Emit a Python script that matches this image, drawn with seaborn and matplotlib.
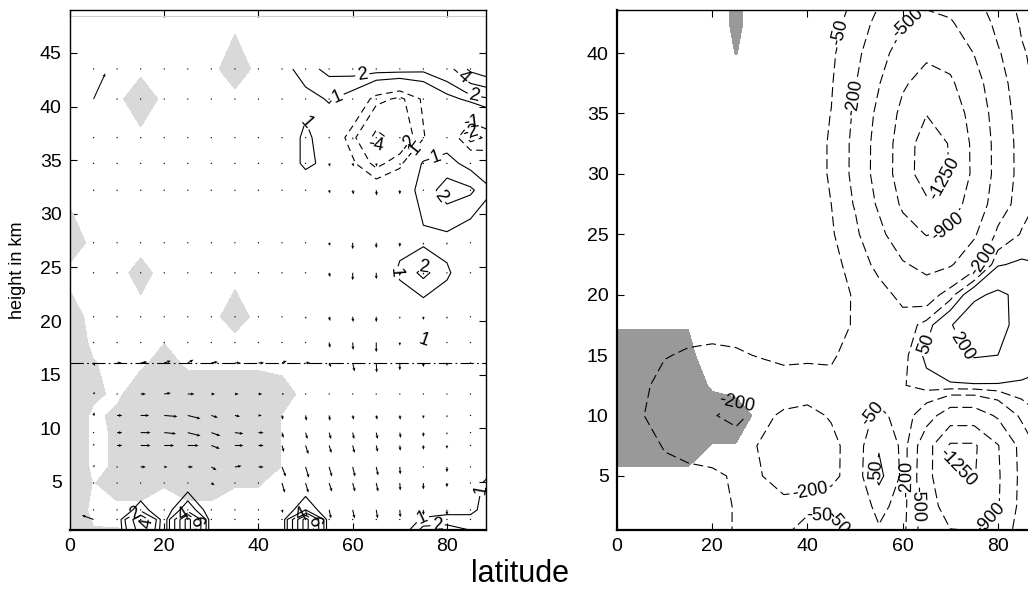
import numpy as np
import matplotlib
matplotlib.use("Agg")
import matplotlib.pyplot as plt
import seaborn as sns

sns.set_style("ticks")
plt.rcParams['font.family'] = ['Liberation Sans', 'DejaVu Sans']
plt.rcParams.update({'text.color': 'black', 'axes.labelcolor': 'black',
                     'xtick.color': 'black', 'ytick.color': 'black',
                     'axes.edgecolor': 'black'})

# ---------------- data ----------------
LAT = [0, 5, 10, 15, 20, 25, 30, 35, 40, 45, 50, 55, 60, 65, 70, 75, 80, 85, 90]

# left panel: model levels (km)
HEIGHT_L = [0.5, 1.5, 2.4, 4.9, 6.4, 8.4, 9.6, 11.2, 13.2, 16.1, 18.0, 20.4,
            24.5, 27.3, 32.2, 34.7, 37.1, 40.7, 43.5]
HEIGHT_SHADE_L = HEIGHT_L + [48.4]
TROPOPAUSE_KM = 16.1

# left panel contour field (rows = HEIGHT_L, cols = LAT)
FIELD_L = [
    [0, 0, 0, 5, 0, 9, 0, 0, 0, 0, 9, 0, 0, 0, 0, 2.5, 2.5, 2, 1.5],
    [0, 0, 0, 6, 0, 9, 0, 0, 0, 0, 9, 0, 0, 0, 0, 1.2, 1.5, 1.2, 1.2],
    [0, 0, 0, 1.5, 0, 3, 0, 0, 0, 0, 2, 0, 0, 0, 0, 0.3, 0.5, 0.8, 1.5],
    [0, 0, 0, 0, 0, 0, 0, 0, 0, 0, 0, 0, 0, 0, 0, 0, 0, 0.5, 1.5],
    [0, 0, 0, 0, 0, 0, 0, 0, 0, 0, 0, 0, 0, 0, 0, 0, 0, 0, 0.8],
    [0] * 19,
    [0] * 19,
    [0] * 19,
    [0] * 19,
    [0] * 19,
    [0, 0, 0, 0, 0, 0, 0, 0, 0, 0, 0, 0, 0, 0, 0, 1.1, 0, 0, 0],
    [0] * 19,
    [0, 0, 0, 0, 0, 0, 0, 0, 0, 0, 0, 0, 0, 0, 1.2, 2.3, 1.2, 0, 0],
    [0, 0, 0, 0, 0, 0, 0, 0, 0, 0, 0, 0, 0, 0, 0.7, 0.8, 0.6, 0, 0],
    [0, 0, 0, 0, 0, 0, 0, 0, 0, 0, 0, 0, 0, 0, 0.3, 1.4, 2.5, 2.2, 1.0],
    [0, 0, 0, 0, 0, 0, 0, 0, 0, 0, 1.3, 0.6, -0.8, -2.4, -1.3, 1.2, 1.4, 0.6, -0.5],
    [0, 0, 0, 0, 0, 0, 0, 0, 0, 0, 1.3, 0.2, -1.6, -4.6, -3.2, -1.1, 0.4, -2.5, -1.5],
    [0, 0, 0, 0, 0, 0, 0, 0, 0, 0, 0.6, 1.1, 0.4, -1.5, -2.3, -0.8, 0.6, 1.3, 2],
    [0, 0, 0, 0, 0, 0, 0, 0, 0, 0.5, 1.6, 2.3, 2.5, 2.5, 2.5, 2.3, 3.0, 6.5, 8],
]
LEVELS_L = [-6, -4, -2, -1, 1, 2, 4, 6, 8]

# left panel light shading (rows = HEIGHT_SHADE_L, cols = LAT)
SHADE_L = [
    [2, 0.6, 0.6, 0.3, 0, 0, 0, 0, 0, 0, 0, 0, 0, 0, 0, 0, 0, 0, 0],
    [2, 0.3, 0.2, 0, 0, 0, 0, 0, 0, 0, 0, 0, 0, 0, 0, 0, 0, 0, 0],
    [2, 0, 0, 0, 0, 0, 0, 0, 0, 0, 0, 0, 0, 0, 0, 0, 0, 0, 0],
    [2, 0.4, 1.5, 1.5, 0.6, 1.5, 1.5, 0.6, 0.6, 0, 0, 0, 0, 0, 0, 0, 0, 0, 0],
    [2.5, 0, 0.8, 1.5, 1.5, 1.5, 1.5, 1.5, 1.5, 0.45, 0, 0, 0, 0, 0, 0, 0, 0, 0],
    [2.5, 0, 0.8, 1.5, 1.5, 1.5, 1.5, 1.5, 1.5, 0.45, 0, 0, 0, 0, 0, 0, 0, 0, 0],
    [2.5, 0, 0.8, 1.5, 1.5, 1.5, 1.5, 1.5, 1.5, 0.45, 0, 0, 0, 0, 0, 0, 0, 0, 0],
    [2.5, 0, 1, 1.5, 1.5, 1.5, 1.5, 1.5, 1.5, 0.45, 0, 0, 0, 0, 0, 0, 0, 0, 0],
    [2, 1, 0, 2, 2, 2, 2, 2, 2, 1.2, 0, 0, 0, 0, 0, 0, 0, 0, 0],
    [2, 0.6, 0, 0, 1.5, 0, 0, 0, 0, 0, 0, 0, 0, 0, 0, 0, 0, 0, 0],
    [2, 0, 0, 0, 0.45, 0, 0, 0, 0, 0, 0, 0, 0, 0, 0, 0, 0, 0, 0],
    [1.2, 0, 0, 0, 0, 0, 0, 1.3, 0, 0, 0, 0, 0, 0, 0, 0, 0, 0, 0],
    [0, 0, 0, 1, 0, 0, 0, 0, 0, 0, 0, 0, 0, 0, 0, 0, 0, 0, 0],
    [1.5, 0, 0, 0, 0, 0, 0, 0, 0, 0, 0, 0, 0, 0, 0, 0, 0, 0, 0],
    [0] * 19,
    [0] * 19,
    [0] * 19,
    [0, 0, 0, 1.8, 0, 0, 0, 0, 0, 0, 0, 0, 0, 0, 0, 0, 0, 0, 0],
    [0, 0, 0, 0, 0, 0, 0, 1.5, 0, 0, 0, 0, 0, 0, 0, 0, 0, 0, 0],
    [0] * 19,
]

# left panel wind vectors, tenths of a degree / tenths of a km
QUIVER_LAT = LAT[1:18]
QUIVER_HEIGHT = HEIGHT_L[1:]
U_L = [
    [-25, 0, 0, 0, 0, 0, 0, 0, 0, 0, 0, 0, 0, 0, 0, 0, 0],
    [0, 0, 0, 0, 0, 0, 0, 0, 2, 3, 4, 4, 3, 1, 0, 0, 0],
    [0, 0, 0, 0, 0, 7, 0, 0, 6, 6, 6, 5, 4, 1, 0, 0, 0],
    [2, 0, 11, 7, 11, 11, 14, 11, 8, 7, 6, 5, 4, 1, 0, 0, 0],
    [1, 11, 21, 21, 23, 18, 18, 11, 4, 6, 5, 4, 3, 1, 0, 0, 0],
    [0, 11, 21, 25, 27, 19, 18, 11, 3, 4, 4, 3, 3, 2, 0, 0, 0],
    [2, 11, 18, 28, 27, 14, 11, 7, 2, 2, 2, 2, 2, 1, 0, 0, 0],
    [3, 0, 11, 14, 14, 8, 8, 8, 5, 0, 0, 0, 0, 0, 0, 0, 0],
    [3, 10, 14, 14, 12, 14, 12, 12, 10, 10, 4, 4, 1, 0, 0, 0, 0],
    [0, 0, 0, 0, 0, 0, 0, 0, 0, 0, 2, 1, 0, 0, 0, 0, 0],
    [0, 0, 0, 0, 0, 0, 0, 0, 0, 1, 2, 1, 0, 0, 0, 0, 0],
    [0, 0, 0, 0, 0, 0, 0, 0, 0, 0, 2, 0, 0, 0, 0, 0, 0],
    [0, 0, 0, 0, 0, 0, 0, 0, 0, 0, 2, 0, 0, 0, 0, 0, 0],
    [0, 0, 0, 0, 0, 0, 0, 0, 0, 0, 2, 2, 1, 0, 0, 0, 0],
    [0, 0, 0, 0, 0, 0, 0, 0, 0, 0, 2, 2, 1, 1, 0, 0, 0],
    [0, 0, 0, 0, 0, 0, 0, 0, 0, 0, 0, 1, 0, 0, 0, 0, 0],
    [25, 0, 0, 0, 0, 0, 0, 0, 0, 0, 0, 0, 0, 0, 0, 0, 0],
    [0] * 17,
]
V_L = [
    [4, 0, 0, 0, 0, 0, 0, 0, 0, 0, 0, 0, 0, 0, 0, 0, 0],
    [0, 0, 0, 0, 0, 0, 0, 0, -3, -6, -8, -8, -8, -7, -5, -5, 0],
    [0, 0, 0, 0, 0, -2, 0, 0, -9, -9, -8, -8, -8, -7, -6, -4, 0],
    [2, 0, 0, 0, 0, -3, 1, 0, -9, -10, -9, -9, -8, -7, 0, -5, 0],
    [2, 0, 0, 0, 0, -3, 0, 0, -6, -8, -7, -7, -6, -5, -4, -3, 0],
    [1, 0, 0, -1, -3, -3, -1, 0, -5, -6, -6, -6, -6, -5, -4, -2, 0],
    [3, 0, 0, -1, -3, -2, -1, 0, -4, -5, -5, -4, -4, -4, -3, -2, 0],
    [2, 0, 0, 1, 0, 0, 0, 0, 0, 0, 0, 0, 0, 0, 0, 0, 0],
    [-3, 0, 1, 2, 3, 1, 0, 0, 2, 0, -4, -8, -9, -7, -4, -3, 0],
    [0, 0, 0, 0, 0, 0, 0, 0, -1, 0, -5, -7, -9, -3, -2, 0, 0],
    [0, 0, 0, 0, 0, 0, 0, 0, 0, -2, -4, -5, -5, -2, -3, -2, 0],
    [0, 0, 0, 0, 0, 0, 0, 0, 0, 0, -4, -7, -6, -3, -2, -1, 0],
    [0, 0, 0, 0, 0, 0, 0, 0, 0, 0, -3, -6, -5, -4, -2, -2, 0],
    [0, 0, 0, 0, 0, 0, 0, 0, 0, 0, -3, -4, -5, -4, 0, 0, 0],
    [0, 0, 0, 0, 0, 0, 0, 0, 0, 0, -3, -3, -3, -2, 0, 0, 0],
    [0, 0, 0, 0, 0, 0, 0, 0, 0, 0, 0, -2, 0, 0, 0, 0, 0],
    [24, 0, 0, 0, 0, 0, 0, 0, 0, 0, 0, 0, 0, 0, 0, 0, 0],
    [0] * 17,
]

# right panel (rows = HEIGHT_R, cols = LAT)
HEIGHT_R = [0, 2.5, 5, 7.5, 10, 12.5, 15, 17.5, 20, 22.5, 25, 27.5, 30, 32.5,
            35, 37.5, 40, 42.5, 45]
FIELD_R = [
    [0, -5, -10, -15, -25, -55, -100, -60, 80, 60, -90, -70, -130, -700, -850, -860, -780, -280, -30],
    [-5, -5, -10, -15, -25, -55, -130, -150, -110, -100, -120, -20, -90, -750, -1050, -1080, -930, -380, -60],
    [-5, -10, -30, -35, -35, -60, -190, -280, -300, -250, -110, 80, -70, -800, -1200, -1270, -950, -400, -60],
    [-5, -20, -55, -70, -90, -130, -210, -320, -340, -260, -100, 40, -70, -760, -1300, -1300, -920, -380, -50],
    [-5, -40, -110, -150, -190, -240, -150, -230, -260, -180, -100, -30, -80, -350, -700, -700, -450, -150, -30],
    [0, -30, -80, -100, -120, -150, -100, -80, -90, -70, -70, -100, -60, 10, 35, 40, 40, 35, 30],
    [0, -10, -45, -60, -65, -60, -45, -35, -35, -40, -80, -100, -90, 80, 170, 215, 200, 120, 70],
    [0, 0, -10, -20, -25, -20, -10, -5, -5, -10, -60, -100, -130, 0, 190, 300, 280, 110, 60],
    [0, 0, 0, 0, 0, 0, 0, 0, 0, -6, -60, -130, -250, -323, -100, 170, 230, 160, 90],
    [0, 0, 0, 0, 0, 0, 0, 0, 0, -16, -90, -256, -465, -595, -530, -300, 40, 70, 50],
    [0, 0, 0, 0, 0, 0, 0, 0, -2, -34, -155, -405, -730, -915, -830, -540, -150, -40, 0],
    [0, 0, 0, 0, 0, 0, 0, 0, -4, -50, -215, -550, -965, -1190, -1085, -720, -330, -95, -13],
    [0, 0, 0, 0, 0, 0, 0, 0, -5, -60, -248, -640, -1093, -1415, -1240, -829, -377, -115, -15],
    [0, 0, 0, 0, 0, 0, 0, 0, -5, -60, -246, -636, -1085, -1405, -1230, -822, -375, -113, -15],
    [0, 0, 0, 0, 0, 0, 0, 0, -4, -52, -225, -578, -1000, -1240, -1126, -754, -340, -100, -14],
    [0, 0, 0, 0, 0, 0, 0, 0, -3, -40, -185, -482, -850, -1050, -960, -636, -290, -78, -11],
    [0, 0, 0, 0, 0, 0, 0, 0, -2, -30, -136, -367, -664, -829, -754, -490, -220, -60, -7],
    [0, 0, 0, 0, 0, 0, 0, 0, 0, -16, -90, -256, -465, -593, -530, -340, -145, -37, -4],
    [0, 0, 0, 0, 0, 0, 0, 0, 0, -6, -54, -160, -300, -377, -340, -220, -87, -20, 0],
]
LEVELS_R = [-1250, -900, -500, -200, -50, 50, 200]

SHADE_R = [
    [0] * 19,
    [0] * 19,
    [0.27, 0.27, 0.27, 0.27, 0, 0, 0, 0, 0, 0, 0, 0, 0, 0, 0, 0, 0, 0, 0],
    [1, 1, 1, 1, 0.45, 0.45, 0, 0, 0, 0, 0, 0, 0, 0, 0, 0, 0, 0, 0],
    [1, 1, 1, 1, 1, 1, 0.24, 0, 0, 0, 0, 0, 0, 0, 0, 0, 0, 0, 0],
    [1, 1, 1, 1, 0.375, 0.17, 0, 0, 0, 0, 0, 0, 0, 0, 0, 0, 0, 0, 0],
    [1, 1, 1, 1, -0.7, 0, 0, 0, 0, 0, 0, 0, 0, 0, 0, 0, 0, 0, 0],
    [0.4, 0.4, 0.4, 0.4, 0, 0, 0, 0, 0, 0, 0, 0, 0, 0, 0, 0, 0, 0, 0],
    [0] * 19,
    [0] * 19,
    [0] * 19,
    [0] * 19,
    [0] * 19,
    [0] * 19,
    [0] * 19,
    [0] * 19,
    [0, 0, 0, 0, 0, 0.53, 0, 0, 0, 0, 0, 0, 0, 0, 0, 0, 0, 0, 0],
    [0, 0, 0, 0, 0, 0.7, 0, 0, 0, 0, 0, 0, 0, 0, 0, 0, 0, 0, 0],
    [0, 0, 0, 0, 0, 0.7, 0, 0, 0, 0, 0, 0, 0, 0, 0, 0, 0, 0, 0],
]

XTICKS = [0, 20, 40, 60, 80]

# where the contour labels sit in the reference (lat, km)
LABEL_POS_L = [(62, 43.1), (57, 40.6), (51, 38.6), (64, 36), (70, 37.3),
               (74, 35.5), (78.5, 34.3), (80, 32), (84, 43), (86, 41.5),
               (86, 39.2), (85, 37.8), (69, 24.5), (76, 25.4), (76.4, 18.7),
               (74, 2.2), (78, 1.0), (87.5, 4.3),
               (14, 2.0), (16, 1.2), (24, 2.0), (26.5, 1.3), (49, 2.0), (51.5, 1.3)]
LABEL_POS_R = [(47.4, 41.7), (61.5, 42.3), (50, 36.3), (67.8, 30), (69.5, 25.6),
               (77.5, 22.8), (65, 15.9), (70.5, 15.4), (26.5, 11.5), (53.8, 10.1),
               (40.5, 3.7), (54.8, 5.5), (61, 4.8), (63, 2.7), (72.6, 6.2),
               (76.2, 2.7), (42.6, 1.3), (47.2, 1.5)]

# ---------------- figure ----------------
fig = plt.figure(figsize=(10.28, 5.92), dpi=100)
axL = fig.add_axes([0.0681, 0.1047, 0.4047, 0.8784])
axR = fig.add_axes([0.6002, 0.1047, 0.4090, 0.8784])


def neg_dash(levels, dash):
    return [dash if lv < 0 else 'solid' for lv in levels]


# left panel
axL.contourf(LAT, HEIGHT_SHADE_L, SHADE_L, levels=[0.5, 100],
             colors=['#d9d9d9'], zorder=1)
csL = axL.contour(LAT, HEIGHT_L, FIELD_L, levels=LEVELS_L, colors='k',
                  linewidths=0.8,
                  linestyles=neg_dash(LEVELS_L, (0, (6, 4))), zorder=2)
axL.clabel(csL, fmt='%d', fontsize=13, inline=True, inline_spacing=2,
           manual=LABEL_POS_L)

QX, QY = np.meshgrid(QUIVER_LAT, QUIVER_HEIGHT)
axL.quiver(QX, QY, np.array(U_L) / 10.0, np.array(V_L) / 10.0,
           angles='xy', scale_units='xy', scale=1, color='k',
           width=0.0025, headwidth=3, headlength=3.5, headaxislength=3,
           minlength=1.4, zorder=3)
axL.axhline(TROPOPAUSE_KM, color='k', lw=0.8, ls=(0, (12, 3, 1.5, 3)), zorder=3)
axL.axhline(HEIGHT_SHADE_L[-1], color='#d0d0d0', lw=0.8, zorder=1)

axL.set_xlim(0, 88.3)
axL.set_ylim(0.52, 49.0)
axL.set_xticks(XTICKS)
axL.set_yticks([5, 10, 15, 20, 25, 30, 35, 40, 45])

# right panel
axR.contourf(LAT, HEIGHT_R, SHADE_R, levels=[0.5, 100],
             colors=['#999999'], zorder=1)
csR = axR.contour(LAT, HEIGHT_R, FIELD_R, levels=LEVELS_R, colors='k',
                  linewidths=0.8,
                  linestyles=neg_dash(LEVELS_R, (0, (9, 4))), zorder=2)
axR.clabel(csR, fmt='%d', fontsize=13, inline=True, inline_spacing=2,
           manual=LABEL_POS_R)
axR.set_xlim(0, 88.3)
axR.set_ylim(0.53, 43.56)
axR.set_xticks(XTICKS)
axR.set_yticks([5, 10, 15, 20, 25, 30, 35, 40])

for ax in (axL, axR):
    ax.tick_params(direction='in', length=5, width=0.8, top=True, right=True,
                   labelsize=14, pad=6, colors='black')
    for sp in ax.spines.values():
        sp.set_linewidth(1.0)
        sp.set_color('black')
        sp.set_zorder(5)
axR.spines['left'].set_linewidth(1.6)
axR.spines['bottom'].set_linewidth(1.6)
axL.spines['bottom'].set_linewidth(1.6)

fig.text(18 / 1028, 0.544, 'height in km', rotation=90, ha='center',
         va='center', fontsize=13)
fig.text(0.506, 0.03, 'latitude', ha='center', va='center', fontsize=22)

fig.savefig('out.png', dpi=100)
